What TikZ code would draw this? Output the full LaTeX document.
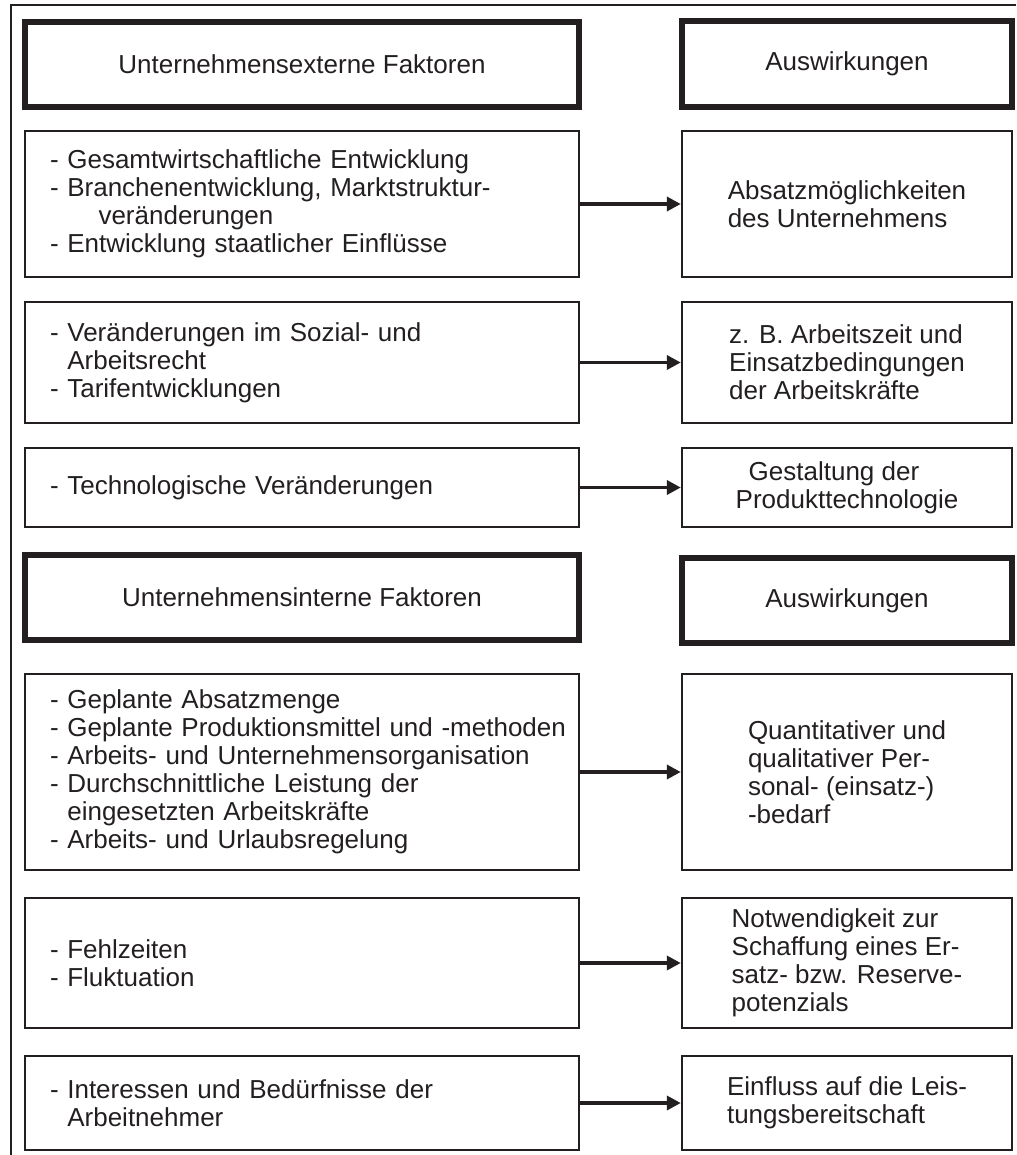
\documentclass[tikz,border=0pt]{standalone}
\usepackage{fontspec}
\setmainfont{Liberation Sans}
\usetikzlibrary{arrows.meta}
\definecolor{inkblack}{RGB}{35,31,32}
\newcommand{\ind}{\hphantom{- }}
\tikzset{
  textfont/.style={font=\fontsize{13pt}{14pt}\selectfont, text=inkblack},
  cause/.style={textfont, draw=inkblack, line width=1.2pt, text width=252pt, inner xsep=12.5pt, align=left},
  effect/.style={textfont, draw=inkblack, line width=1.2pt, minimum width=165pt, align=left},
  headline/.style={textfont, draw=inkblack, line width=3pt, align=center},
  link/.style={draw=inkblack, line width=1.8pt, -{Triangle[length=7pt,width=7pt]}}
}

\begin{document}
\begin{tikzpicture}[x=0.5pt, y=-0.5pt]
\useasboundingbox (0,0) rectangle (1016,1155);
\draw[inkblack, line width=1.1pt] (11,1155) -- (11,5) -- (1016,5);

\node[headline, minimum width=277pt, minimum height=42.5pt] (extern) at (302,64.5) {Unternehmensexterne Faktoren};
\node[headline, minimum width=165pt, minimum height=43pt] (wirkA) at (847,64) {Auswirkungen};

\node[cause, minimum height=73pt] (gesamt) at (302,204) {- Gesamtwirtschaftliche Entwicklung\\- Branchenentwicklung, Marktstruktur-\\\ind\hspace*{1.2em}veränderungen\\- Entwicklung staatlicher Einflüsse};
\node[effect, minimum height=73pt] (absatz) at (847,204) {Absatzmöglichkeiten\\des Unternehmens};

\node[cause, minimum height=60.5pt] (sozial) at (302,362.5) {- Veränderungen im Sozial- und\\\ind Arbeitsrecht\\- Tarifentwicklungen};
\node[effect, minimum height=60.5pt] (arbzeit) at (847,362.5) {z. B. Arbeitszeit und\\Einsatzbedingungen\\der Arbeitskräfte};

\node[cause, minimum height=39.5pt] (technik) at (302,487.5) {- Technologische Veränderungen};
\node[effect, minimum height=39.5pt] (produkt) at (847,487.5) {\hspace*{0.5em}Gestaltung der\\Produkttechnologie};

\node[headline, minimum width=277pt, minimum height=42.5pt] (intern) at (302,597.5) {Unternehmensinterne Faktoren};
\node[headline, minimum width=165pt, minimum height=42.5pt] (wirkB) at (847,600.5) {Auswirkungen};

\node[cause, minimum height=98pt] (planung) at (302,772) {- Geplante Absatzmenge\\\mbox{- Geplante Produktionsmittel und -methoden}\\- Arbeits- und Unternehmensorganisation\\- Durchschnittliche Leistung der\\\ind eingesetzten Arbeitskräfte\\- Arbeits- und Urlaubsregelung};
\node[effect, minimum height=98pt] (bedarf) at (847,772) {Quantitativer und\\qualitativer Per-\\sonal- (einsatz-)\\-bedarf};

\node[cause, minimum height=65pt] (fehlzeit) at (302,963) {- Fehlzeiten\\- Fluktuation};
\node[effect, minimum height=65pt] (reserve) at (847,963) {Notwendigkeit zur\\Schaffung eines Er-\\satz- bzw. Reserve-\\potenzials};

\node[cause, minimum height=47pt] (interesse) at (302,1103) {- Interessen und Bedürfnisse der\\\ind Arbeitnehmer};
\node[effect, minimum height=47pt] (leistung) at (847,1103) {Einfluss auf die Leis-\\tungsbereitschaft};

\draw[link] (gesamt) -- (absatz);
\draw[link] (sozial) -- (arbzeit);
\draw[link] (technik) -- (produkt);
\draw[link] (planung) -- (bedarf);
\draw[link] (fehlzeit) -- (reserve);
\draw[link] (interesse) -- (leistung);
\end{tikzpicture}
\end{document}
